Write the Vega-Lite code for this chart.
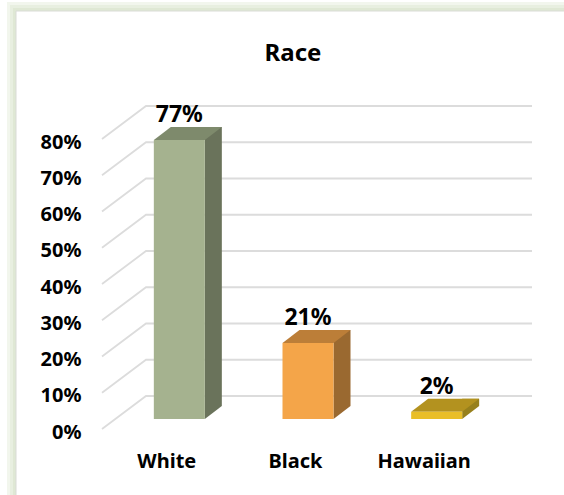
{"$schema":"https://vega.github.io/schema/vega-lite/v6.json","width":430,"height":290,"autosize":"none","padding":{"left":102,"top":139,"right":32,"bottom":66},"background":"white",
"title":{"text":"Race","font":"Noto Sans","fontSize":24,"fontWeight":"bold","color":"#000000","anchor":"middle","dx":-24,"dy":96,"offset":0,"baseline":"alphabetic"},
"config":{"view":{"stroke":null},"font":"Noto Sans"},
"datasets":{"races":[{"race":"White","share":0.77},{"race":"Black","share":0.21},{"race":"Hawaiian","share":0.02}],
"ticks":[{"tick":0},{"tick":0.1},{"tick":0.2},{"tick":0.3},{"tick":0.4},{"tick":0.5},{"tick":0.6},{"tick":0.7},{"tick":0.8}],
"frame":[{"name":"frame"}]},
"layer":[
{"data":{"name":"frame"},"mark":{"type":"point","size":4,"filled":false,"stroke":"#f2f6ed","strokeWidth":9,"opacity":1,"shape":"M-305.5 211 L-305.5 -277.5 L247 -277.5"},"encoding":{}},
{"data":{"name":"frame"},"mark":{"type":"point","size":4,"filled":false,"stroke":"#e8efe0","strokeWidth":6,"opacity":1,"shape":"M-304 211 L-304 -276 L247 -276"},"encoding":{}},
{"data":{"name":"frame"},"mark":{"type":"point","size":4,"filled":false,"stroke":"#dfe8d4","strokeWidth":3,"opacity":1,"shape":"M-302.5 211 L-302.5 -274.5 L247 -274.5"},"encoding":{}},
{"data":{"name":"frame"},"mark":{"type":"point","size":4,"filled":false,"stroke":"#d9dcd6","strokeWidth":1,"opacity":1,"shape":"M-301 211 L-301 -273 L247 -273"},"encoding":{}},
{"data":{"name":"ticks"},"mark":{"type":"point","size":4,"filled":false,"stroke":"#dcdcdc","strokeWidth":1.8,"opacity":1,"shape":"M-215 0 L-171 -33 L215 -33"},"encoding":{"y":{"field":"tick","type":"quantitative","scale":{"domain":[0,0.8]},"axis":{"values":[0,0.1,0.2,0.3,0.4,0.5,0.6,0.7,0.8],"tickCount":9,"format":".0%","title":null,"domain":false,"ticks":false,"grid":false,"labelOverlap":false,"labelOffset":3,"labelFont":"Noto Sans","labelFontSize":20,"labelFontWeight":"bold","labelColor":"#000000","labelPadding":21}}}},
{"data":{"name":"races"},"resolve":{"scale":{"color":"independent"}},"layer":[
{"mark":{"type":"bar","width":17,"xOffset":34,"yOffset":-23,"y2Offset":-23},"encoding":{"x":{"field":"race","type":"nominal","sort":null,"scale":{"range":[13,399],"paddingInner":0,"paddingOuter":0},"axis":{"title":null,"domain":false,"ticks":false,"grid":false,"labelAngle":0,"labelFont":"Noto Sans","labelFontSize":20,"labelFontWeight":"bold","labelColor":"#000000","labelPadding":22,"labelOffset":-12.5}},"y":{"field":"share","type":"quantitative","axis":{"values":[0,0.1,0.2,0.3,0.4,0.5,0.6,0.7,0.8],"tickCount":9,"format":".0%","title":null,"domain":false,"ticks":false,"grid":false,"labelOverlap":false,"labelOffset":3,"labelFont":"Noto Sans","labelFontSize":20,"labelFontWeight":"bold","labelColor":"#000000","labelPadding":21}},"y2":{"datum":0},"color":{"field":"race","sort":null,"scale":{"range":["#6a735b","#9a6930","#97801c"]},"legend":null}}},
{"mark":{"type":"point","size":4,"filled":true,"opacity":1,"shape":"M25.5 -10 L42.5 -23 L25.5 -23 Z"},"encoding":{"x":{"field":"race","type":"nominal","sort":null},"y":{"datum":0},"color":{"field":"race","sort":null,"scale":{"range":["#6a735b","#9a6930","#97801c"]},"legend":null}}},
{"mark":{"type":"point","size":4,"filled":true,"opacity":1,"shape":"M-25.5 -10 L25.5 -10 L42.5 -23 L-8.5 -23 Z"},"encoding":{"x":{"field":"race","type":"nominal","sort":null},"y":{"field":"share","type":"quantitative"},"color":{"field":"race","sort":null,"scale":{"range":["#7e8a6c","#bc7e38","#b3921f"]},"legend":null}}},
{"mark":{"type":"bar","width":51,"yOffset":-10,"y2Offset":-10},"encoding":{"x":{"field":"race","type":"nominal","sort":null},"y":{"field":"share","type":"quantitative"},"y2":{"datum":0},"color":{"field":"race","sort":null,"scale":{"range":["#a5b28f","#f4a549","#e9be28"]},"legend":null}}},
{"mark":{"type":"text","font":"Noto Sans","fontSize":23,"fontWeight":"bold","color":"#000000","baseline":"middle","yOffset":-35},"encoding":{"x":{"field":"race","type":"nominal","sort":null},"y":{"field":"share","type":"quantitative"},"text":{"field":"share","type":"quantitative","format":".0%"}}}
]}
]}
